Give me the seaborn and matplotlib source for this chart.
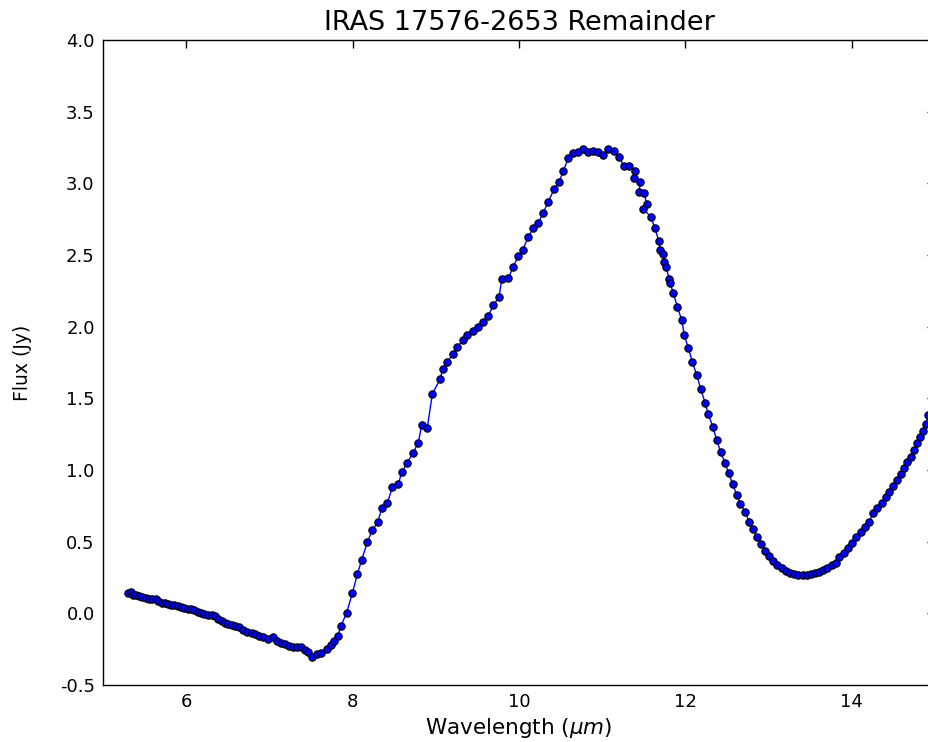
import matplotlib
matplotlib.use("Agg")
import matplotlib.pyplot as plt
import seaborn as sns
import pandas as pd

wavelength = [
    5.304, 5.337, 5.365, 5.397, 5.433, 5.473, 5.513, 5.553, 5.593, 5.633,
    5.665, 5.705, 5.745, 5.785, 5.817, 5.857, 5.897, 5.937, 5.977, 6.018,
    6.058, 6.097, 6.138, 6.178, 6.218, 6.258, 6.306, 6.346, 6.386, 6.427,
    6.466, 6.506, 6.547, 6.587, 6.635, 6.687, 6.735, 6.787, 6.827, 6.879,
    6.927, 6.987, 7.040, 7.088, 7.136, 7.188, 7.239, 7.287, 7.335, 7.380,
    7.428, 7.468, 7.508, 7.576, 7.620, 7.689, 7.737, 7.776, 7.821, 7.861,
    7.929, 7.997, 8.057, 8.109, 8.177, 8.237, 8.302, 8.350, 8.417, 8.477,
    8.549, 8.590, 8.657, 8.722, 8.790, 8.830, 8.898, 8.958, 9.050, 9.083,
    9.138, 9.203, 9.258, 9.323, 9.378, 9.443, 9.511, 9.564, 9.631, 9.691,
    9.760, 9.792, 9.872, 9.931, 9.992, 10.044, 10.112, 10.172, 10.232, 10.292,
    10.352, 10.421, 10.484, 10.532, 10.593, 10.653, 10.713, 10.773, 10.833, 10.893,
    10.953, 11.013, 11.073, 11.142, 11.205, 11.258, 11.326, 11.394, 11.382, 11.454,
    11.446, 11.502, 11.535, 11.494, 11.583, 11.635, 11.679, 11.695, 11.727, 11.743,
    11.767, 11.807, 11.815, 11.855, 11.903, 11.955, 11.987, 12.035, 12.083, 12.136,
    12.184, 12.236, 12.275, 12.332, 12.376, 12.424, 12.476, 12.520, 12.568, 12.617,
    12.660, 12.716, 12.768, 12.809, 12.857, 12.909, 12.957, 13.009, 13.056, 13.104,
    13.157, 13.209, 13.257, 13.309, 13.357, 13.409, 13.457, 13.510, 13.558, 13.609,
    13.657, 13.706, 13.758, 13.810, 13.850, 13.906, 13.958, 14.006, 14.050, 14.107,
    14.155, 14.207, 14.258, 14.306, 14.359, 14.407, 14.450, 14.498, 14.539, 14.588,
    14.627, 14.667, 14.708, 14.748, 14.780, 14.820, 14.852, 14.888, 14.920, 14.960,
]

flux = [
    0.139, 0.148, 0.130, 0.126, 0.121, 0.111, 0.104, 0.102, 0.097, 0.102,
    0.088, 0.074, 0.070, 0.065, 0.060, 0.056, 0.051, 0.042, 0.037, 0.028,
    0.028, 0.022, 0.012, 0.000, -0.005, -0.009, -0.009, -0.019, -0.042, -0.051,
    -0.065, -0.074, -0.081, -0.088, -0.093, -0.119, -0.131, -0.137, -0.147, -0.156,
    -0.165, -0.181, -0.165, -0.193, -0.205, -0.216, -0.226, -0.233, -0.233, -0.233,
    -0.256, -0.268, -0.303, -0.282, -0.279, -0.251, -0.221, -0.193, -0.159, -0.088,
    0.005, 0.140, 0.272, 0.372, 0.495, 0.581, 0.635, 0.733, 0.767, 0.879,
    0.900, 0.984, 1.051, 1.116, 1.190, 1.314, 1.295, 1.530, 1.632, 1.702,
    1.753, 1.807, 1.856, 1.905, 1.944, 1.972, 2.000, 2.030, 2.074, 2.151,
    2.205, 2.330, 2.337, 2.418, 2.493, 2.535, 2.628, 2.686, 2.721, 2.796,
    2.872, 2.958, 3.012, 3.086, 3.175, 3.209, 3.221, 3.237, 3.221, 3.228,
    3.221, 3.198, 3.237, 3.228, 3.186, 3.118, 3.118, 3.088, 3.035, 3.012,
    2.942, 2.935, 2.856, 2.821, 2.767, 2.686, 2.600, 2.535, 2.505, 2.453,
    2.418, 2.330, 2.307, 2.233, 2.140, 2.047, 1.942, 1.849, 1.756, 1.661,
    1.567, 1.470, 1.388, 1.298, 1.209, 1.125, 1.051, 0.977, 0.902, 0.826,
    0.763, 0.709, 0.639, 0.586, 0.535, 0.484, 0.437, 0.400, 0.365, 0.337,
    0.314, 0.295, 0.283, 0.274, 0.267, 0.265, 0.265, 0.272, 0.279, 0.288,
    0.302, 0.318, 0.335, 0.353, 0.395, 0.423, 0.454, 0.493, 0.535, 0.570,
    0.604, 0.639, 0.698, 0.733, 0.767, 0.814, 0.849, 0.888, 0.930, 0.972,
    1.012, 1.058, 1.093, 1.140, 1.186, 1.228, 1.274, 1.321, 1.384, 1.430,
]

x_ticks = [6, 8, 10, 12, 14]
y_ticks = [-0.5, 0.0, 0.5, 1.0, 1.5, 2.0, 2.5, 3.0, 3.5, 4.0]
title_text = "IRAS 17576-2653 Remainder"
x_label = r"Wavelength ($\mu m$)"
y_label = "Flux (Jy)"

sns.set_style("white")
plt.rcParams['font.family'] = ['DejaVu Sans']
plt.rcParams['axes.unicode_minus'] = False
plt.rcParams['mathtext.fontset'] = 'dejavusans'

fig = plt.figure(figsize=(9.29, 7.42), dpi=100)
ax = fig.add_axes([103 / 929, 57 / 742, 832 / 929, 645 / 742])

df = pd.DataFrame({"Wavelength": wavelength, "Flux": flux})
sns.lineplot(data=df, x="Wavelength", y="Flux", sort=False, estimator=None,
             color="blue", linewidth=1.0, marker="o", markersize=5.3,
             markerfacecolor="blue", markeredgecolor="black",
             markeredgewidth=0.8, ax=ax)

ax.set_xlim(5, 15)
ax.set_ylim(-0.5, 4.0)
ax.set_xticks(x_ticks)
ax.set_xticklabels([str(t) for t in x_ticks])
ax.set_yticks(y_ticks)
ax.set_yticklabels([f"{t:.1f}" for t in y_ticks])
ax.tick_params(direction="in", length=6, width=1, top=True, right=True,
               labelsize=13, colors="black", pad=6)
for s in ax.spines.values():
    s.set_visible(True)
    s.set_color("black")
    s.set_linewidth(1.0)

ax.set_title(title_text, fontsize=19.5, pad=7, color="black")
ax.set_xlabel(x_label, fontsize=15.5, labelpad=3, color="black")
ax.set_ylabel(y_label, fontsize=13.5, labelpad=20, color="black")

fig.savefig("out.png", dpi=100)
